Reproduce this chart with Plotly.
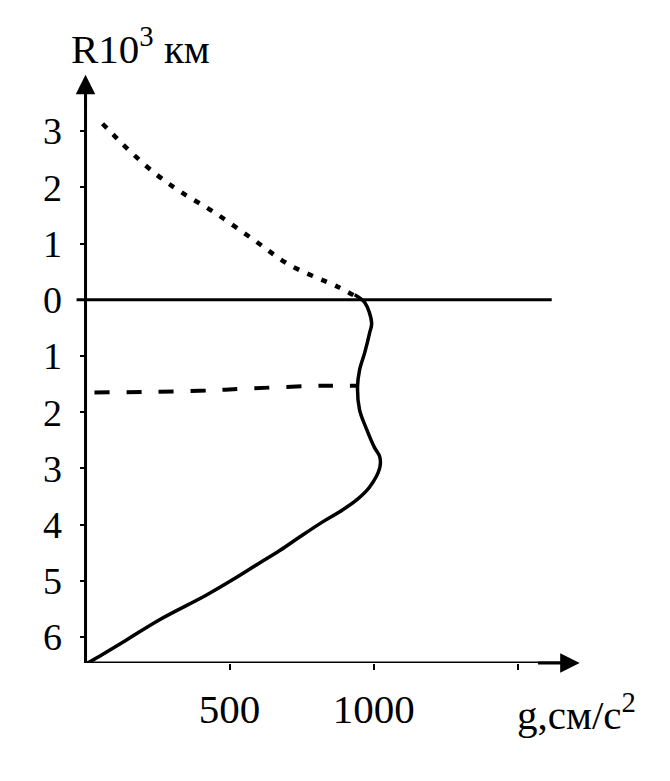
import plotly.graph_objects as go

# --- data (g in cm/s^2, R in 10^3 km; depth below surface negative) ---
above_g = [59, 94, 142, 243, 330, 448, 580, 708, 875, 941]
above_R = [3.13, 2.95, 2.70, 2.24, 1.92, 1.55, 1.08, 0.62, 0.23, 0.05]

inner_g = [934, 969, 993, 986, 969, 951, 944, 951, 976, 1003, 1021, 1021, 986, 941,
           882, 823, 743, 674, 604, 510, 420, 257, 142, 24, 5]
inner_R = [0.09, -0.05, -0.41, -0.59, -0.94, -1.25, -1.55, -1.96, -2.31, -2.63, -2.79,
           -2.99, -3.33, -3.56, -3.77, -3.95, -4.22, -4.46, -4.68, -4.98, -5.25, -5.69,
           -6.05, -6.41, -6.46]

dash_g = [31, 396, 559, 823, 944]
dash_R = [-1.65, -1.62, -1.58, -1.53, -1.53]

surface_g = [-31, 1618]
surface_R = [0, 0]

y_tickvals = [-6, -5, -4, -3, -2, -1, 0, 1, 2, 3]
y_ticktext = ["6", "5", "4", "3", "2", "1", "0", "1", "2", "3"]
x_tickvals = [500, 1000, 1500]
x_ticktext = ["500", "1000", ""]

X_MIN, X_MAX = -40, 1730
Y_MIN, Y_MAX = -6.46, 4.05
AXIS_TOP = 4.0
AXIS_RIGHT = 1715

FONT = "Liberation Serif"
fig = go.Figure()

fig.add_trace(go.Scatter(x=surface_g, y=surface_R, mode="lines",
                         line=dict(color="black", width=3), showlegend=False, hoverinfo="skip"))
fig.add_trace(go.Scatter(x=above_g, y=above_R, mode="lines", line_shape="spline",
                         line=dict(color="black", width=4.5, dash="6px,9px"), showlegend=False))
fig.add_trace(go.Scatter(x=dash_g, y=dash_R, mode="lines", line_shape="spline",
                         line=dict(color="black", width=4, dash="15px,17px"), showlegend=False))
fig.add_trace(go.Scatter(x=inner_g, y=inner_R, mode="lines", line_shape="spline",
                         line=dict(color="black", width=3.5), showlegend=False))

# axis lines
fig.add_shape(type="line", x0=0, x1=0, y0=Y_MIN, y1=AXIS_TOP - 0.2,
              line=dict(color="black", width=3), xref="x", yref="y")
fig.add_shape(type="line", x0=0, x1=AXIS_RIGHT - 60, y0=Y_MIN, y1=Y_MIN,
              line=dict(color="black", width=3), xref="x", yref="y")
# arrow heads
fig.add_annotation(x=0, y=AXIS_TOP, ax=0, ay=AXIS_TOP - 0.6, xref="x", yref="y",
                   axref="x", ayref="y", showarrow=True, arrowhead=2, arrowsize=1.3,
                   arrowwidth=3, arrowcolor="black", text="")
fig.add_annotation(x=AXIS_RIGHT, y=Y_MIN, ax=AXIS_RIGHT - 150, ay=Y_MIN, xref="x", yref="y",
                   axref="x", ayref="y", showarrow=True, arrowhead=2, arrowsize=1.3,
                   arrowwidth=3, arrowcolor="black", text="")

# axis titles
fig.add_annotation(x=(140 - 74) / 510, y=(663 - 46) / 591, xref="paper", yref="paper",
                   showarrow=False, text="R10<sup>3</sup> км",
                   font=dict(family=FONT, size=41, color="black"),
                   xanchor="center", yanchor="middle")
fig.add_annotation(x=(576 - 74) / 510, y=(663 - 712) / 591, xref="paper", yref="paper",
                   showarrow=False, text="g,см/с<sup>2</sup>",
                   font=dict(family=FONT, size=41, color="black"),
                   xanchor="center", yanchor="middle")

fig.update_layout(
    width=670, height=781, autosize=False,
    margin=dict(l=74, r=86, t=72, b=118, pad=0),
    plot_bgcolor="white", paper_bgcolor="white",
    xaxis=dict(range=[X_MIN, X_MAX], showgrid=False, zeroline=False, showline=False,
               automargin=False,
               tickvals=x_tickvals, ticktext=x_ticktext, ticks="outside", ticklen=6,
               tickwidth=2, tickcolor="black", ticklabelstandoff=4,
               tickfont=dict(family=FONT, size=41, color="black")),
    yaxis=dict(range=[Y_MIN, Y_MAX], showgrid=False, zeroline=False, showline=False,
               automargin=False,
               anchor="free", position=40 / 1770, tickvals=y_tickvals, ticktext=y_ticktext,
               ticks="outside", ticklen=6, tickwidth=2, tickcolor="black",
               ticklabelstandoff=10, tickfont=dict(family=FONT, size=38, color="black")),
)

fig.write_html("out.html", config={"displayModeBar": False},
               post_script="document.body.style.margin='0px';document.body.style.overflow='hidden';")
